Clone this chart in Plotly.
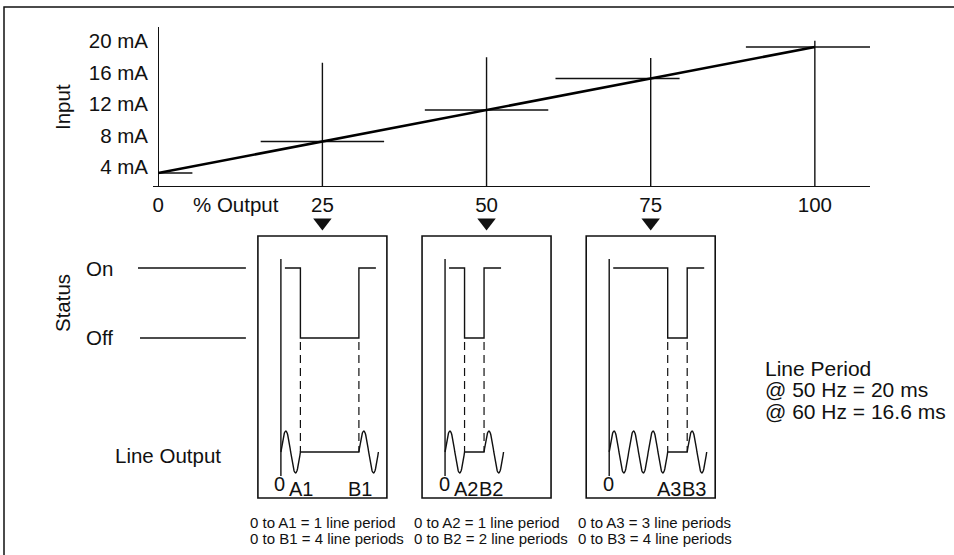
import numpy as np
import plotly.graph_objects as go

# ---------------- data ----------------
output_pct = [0, 25, 50, 75, 100]          # % Output
input_ma = [4, 8, 12, 16, 20]              # Input (mA)
input_ticks = [4, 8, 12, 16, 20]
input_tick_text = ["4 mA", "8 mA", "12 mA", "16 mA", "20 mA"]
output_ticks = [0, 25, 50, 75, 100]
output_tick_text = ["0", "25", "50", "75", "100"]
example_outputs = [25, 50, 75]             # the three example set points
example_ids = ["1", "2", "3"]
periods_to_a = [1, 1, 3]                   # line periods from 0 to A
periods_to_b = [4, 2, 4]                   # line periods from 0 to B
line_period_text = ["Line Period", "@ 50 Hz = 20 ms", "@ 60 Hz = 16.6 ms"]

# ---------------- styling / layout constants ----------------
W, H = 954, 555
FONT = "Liberation Sans, Arial, Helvetica, sans-serif"
INK = "#111111"
MAIN_SIZE = 20.5
THIN = 1.4

X0_PIX, X1_PIX = 153, 870          # top chart horizontal extent (pixels)
X_RANGE = [-0.8, 108.4]
Y0_PIX, Y1_PIX = 186, 27           # top chart bottom / top (pixels)
Y_RANGE = [2.35, 22.54]

# crosshair extents around each point (in % output units / mA), purely visual
cross_left = [0, 9.4, 9.4, 14.5, 10.5]
cross_right = [5.2, 9.4, 9.4, 4.4, 8.4]
cross_top = [None, 18.0, 18.7, 18.6, 20.8]


def xpix(v):
    return X0_PIX + (v - X_RANGE[0]) / (X_RANGE[1] - X_RANGE[0]) * (X1_PIX - X0_PIX)


fig = go.Figure()

# ---------------- top chart ----------------
hx, hy, vx, vy = [], [], [], []
for v, m, l, r, top in zip(output_pct, input_ma, cross_left, cross_right, cross_top):
    hx += [v - l, v + r, None]
    hy += [m, m, None]
    if top is not None:
        vx += [v, v, None]
        vy += [Y_RANGE[0], top, None]
fig.add_trace(go.Scatter(x=hx, y=hy, mode="lines", line=dict(color=INK, width=THIN),
                         xaxis="x", yaxis="y", hoverinfo="skip"))
fig.add_trace(go.Scatter(x=vx, y=vy, mode="lines", line=dict(color=INK, width=THIN),
                         xaxis="x", yaxis="y", hoverinfo="skip"))
fig.add_trace(go.Scatter(x=output_pct, y=input_ma, mode="lines",
                         line=dict(color="#000000", width=2.6),
                         xaxis="x", yaxis="y", hoverinfo="skip"))

# ---------------- lower diagram (pixel layer) ----------------
shapes = []
annotations = []


def txt(x, y, s, size=MAIN_SIZE, xanchor="center", angle=0):
    annotations.append(dict(x=x, y=y, xref="x2", yref="y2", text=s, showarrow=False,
                            xanchor=xanchor, yanchor="middle", textangle=angle,
                            font=dict(family=FONT, size=size, color=INK)))


# outer frame (right/bottom edges fall outside the picture)
shapes.append(dict(type="rect", xref="x2", yref="y2", x0=4, y0=7, x1=W + 10, y1=H + 10,
                   line=dict(color=INK, width=1.5), fillcolor="rgba(0,0,0,0)"))

BOX_W = 129
BOX_TOP, BOX_BOT = 236, 498
ON_Y, OFF_Y = 268, 338
WAVE_Y = 452
AMP = 21
PERIOD = 19.5

box_centers = [xpix(v) for v in example_outputs]
box_lefts = [c - BOX_W / 2 for c in box_centers]

# arrows pointing from the % output ticks to the example boxes
fig.add_trace(go.Scatter(x=box_centers, y=[222.5] * len(box_centers), mode="markers",
                         marker=dict(symbol="triangle-down", size=16, color=INK, line=dict(width=0)),
                         xaxis="x2", yaxis="y2", hoverinfo="skip"))

# status reference lines
fig.add_trace(go.Scatter(x=[138, box_lefts[0] - 12, None, 140, box_lefts[0] - 12],
                         y=[ON_Y, ON_Y, None, OFF_Y, OFF_Y], mode="lines",
                         line=dict(color=INK, width=THIN), xaxis="x2", yaxis="y2", hoverinfo="skip"))

for left, a, b, ident in zip(box_lefts, periods_to_a, periods_to_b, example_ids):
    shapes.append(dict(type="rect", xref="x2", yref="y2", x0=left, y0=BOX_TOP,
                       x1=left + BOX_W, y1=BOX_BOT, line=dict(color=INK, width=1.6)))
    ox = left + 23
    xa = ox + a * PERIOD
    xb = ox + b * PERIOD
    # time axis
    fig.add_trace(go.Scatter(x=[ox, ox], y=[259, 476], mode="lines",
                             line=dict(color=INK, width=THIN), xaxis="x2", yaxis="y2", hoverinfo="skip"))
    # status waveform
    fig.add_trace(go.Scatter(x=[ox + 4, xa, xa, xb, xb, xb + 17],
                             y=[ON_Y, ON_Y, OFF_Y, OFF_Y, ON_Y, ON_Y], mode="lines",
                             line=dict(color=INK, width=THIN), xaxis="x2", yaxis="y2", hoverinfo="skip"))
    # dashed guides
    fig.add_trace(go.Scatter(x=[xa, xa, None, xb, xb], y=[OFF_Y + 4, WAVE_Y, None, OFF_Y + 4, WAVE_Y],
                             mode="lines", line=dict(color=INK, width=1.2, dash="8px,5px"),
                             xaxis="x2", yaxis="y2", hoverinfo="skip"))
    # line output: a periods of AC, off until B, then AC again
    t1 = np.linspace(0, a, 40 * a + 1)
    t2 = np.linspace(0, 1, 41)
    wx = list(ox + t1 * PERIOD) + [xb] + list(xb + t2 * PERIOD)
    wy = list(WAVE_Y - AMP * np.sin(2 * np.pi * t1)) + [WAVE_Y] + list(WAVE_Y - AMP * np.sin(2 * np.pi * t2))
    fig.add_trace(go.Scatter(x=wx, y=wy, mode="lines", line=dict(color=INK, width=THIN),
                             xaxis="x2", yaxis="y2", hoverinfo="skip"))
    # labels
    txt(ox - 1, 484, "0", size=20)
    a_lab = xa + 1
    b_lab = max(xb + 1, a_lab + 25)
    txt(a_lab, 489, "A" + ident, size=20)
    txt(b_lab, 489, "B" + ident, size=20)
    # captions
    s_a = "s" if a > 1 else ""
    s_b = "s" if b > 1 else ""
    txt(left - 10, 522, f"0 to A{ident} = {a} line period{s_a}", size=15, xanchor="left")
    txt(left - 10, 538, f"0 to B{ident} = {b} line period{s_b}", size=15, xanchor="left")

# left-side labels
txt(62, 107, "Input", angle=-90)
txt(62, 303, "Status", angle=-90)
txt(84, 268, "On", xanchor="left")
txt(84, 337, "Off", xanchor="left")
txt(223, 455, "Line Output", xanchor="right")
txt(236, 204, "% Output")

# line period note
for i, s in enumerate(line_period_text):
    txt(763, 368 + 21.5 * i, s, size=21, xanchor="left")

fig.update_layout(
    width=W, height=H,
    margin=dict(l=0, r=0, t=0, b=0),
    paper_bgcolor="white", plot_bgcolor="rgba(0,0,0,0)",
    showlegend=False,
    font=dict(family=FONT, color=INK),
    shapes=shapes, annotations=annotations,
    xaxis=dict(domain=[X0_PIX / W, X1_PIX / W], range=X_RANGE, anchor="y",
               showgrid=False, showline=True, linecolor=INK, linewidth=1.4,
               zeroline=True, zerolinecolor=INK, zerolinewidth=1.4,
               tickmode="array", tickvals=output_ticks, ticktext=output_tick_text, ticks="",
               ticklabelstandoff=0,
               tickfont=dict(family=FONT, size=MAIN_SIZE, color=INK), fixedrange=True),
    yaxis=dict(domain=[1 - Y0_PIX / H, 1 - Y1_PIX / H], range=Y_RANGE, anchor="x",
               showgrid=False, showline=False, zeroline=False,
               tickmode="array", tickvals=input_ticks, ticktext=input_tick_text, ticks="",
               ticklabelshift=-6, ticklabelstandoff=4,
               tickfont=dict(family=FONT, size=MAIN_SIZE, color=INK), fixedrange=True),
    xaxis2=dict(domain=[0, 1], range=[0, W], anchor="y2", visible=False, fixedrange=True),
    yaxis2=dict(domain=[0, 1], range=[H, 0], anchor="x2", visible=False, fixedrange=True),
)

fig.write_html("out.html", config={"displayModeBar": False, "staticPlot": True},
               post_script="document.body.style.margin='0';document.body.style.overflow='hidden';")
